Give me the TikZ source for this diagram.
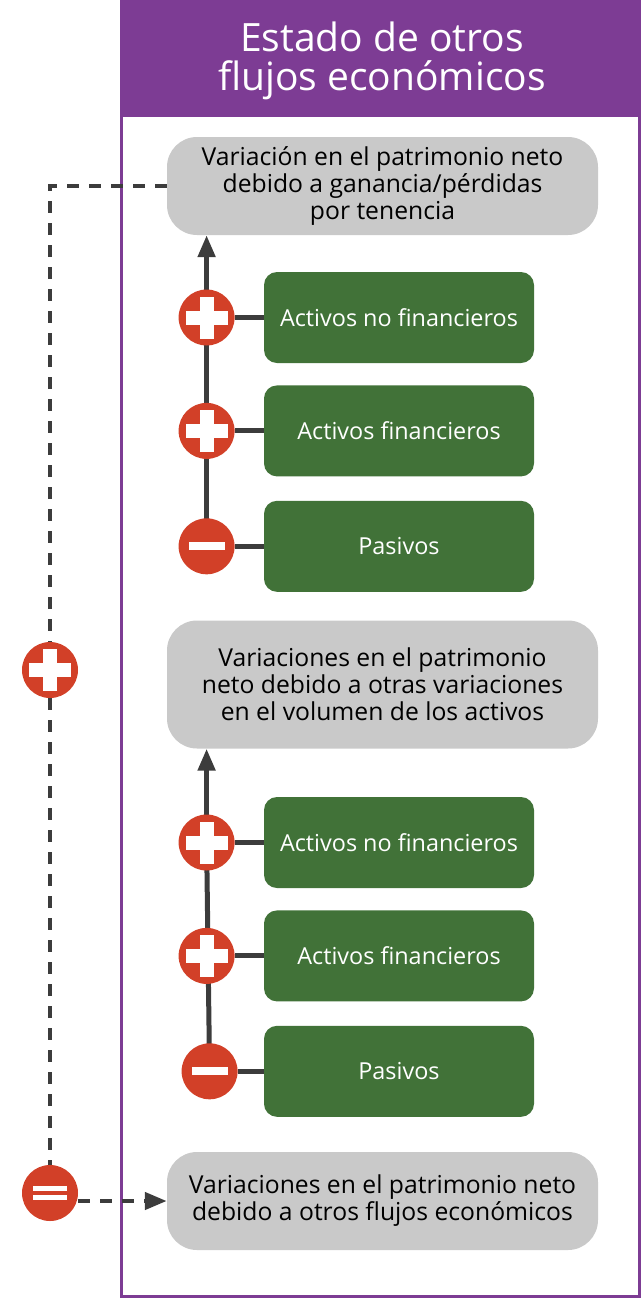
\documentclass[tikz,border=0pt]{standalone}
\usepackage{fontspec}
\setmainfont{Open Sans}
\usepackage{tikz}
\usetikzlibrary{arrows.meta,positioning,backgrounds}
\definecolor{headpurple}{RGB}{125,60,148}
\definecolor{signred}{RGB}{210,64,40}
\definecolor{assetgreen}{RGB}{65,114,56}
\definecolor{flowgray}{RGB}{201,201,201}
\definecolor{linedark}{RGB}{60,60,60}
\tikzset{
  flowbox/.style={rectangle, rounded corners=30pt, fill=flowgray, align=center,
                  minimum width=431pt, inner sep=0pt, font=\fontsize{24.7}{27}\selectfont},
  assetbox/.style={rectangle, rounded corners=13pt, fill=assetgreen, text=white, align=center,
                   minimum width=270pt, minimum height=91pt, font=\fontsize{23.4}{25}\selectfont},
  sgn/.style={circle, fill=signred, minimum size=56pt, inner sep=0pt},
  plussgn/.style={sgn, path picture={
      \fill[white] ([xshift=-21pt,yshift=-7pt]path picture bounding box.center)
        rectangle ([xshift=21pt,yshift=7pt]path picture bounding box.center);
      \fill[white] ([xshift=-7pt,yshift=-21pt]path picture bounding box.center)
        rectangle ([xshift=7pt,yshift=21pt]path picture bounding box.center);}},
  minussgn/.style={sgn, path picture={
      \fill[white] ([xshift=-18pt,yshift=-4pt]path picture bounding box.center)
        rectangle ([xshift=18pt,yshift=4pt]path picture bounding box.center);}},
  eqsgn/.style={sgn, path picture={
      \fill[white] ([xshift=-17pt,yshift=2pt]path picture bounding box.center)
        rectangle ([xshift=17pt,yshift=7pt]path picture bounding box.center);
      \fill[white] ([xshift=-17pt,yshift=-7pt]path picture bounding box.center)
        rectangle ([xshift=17pt,yshift=-2pt]path picture bounding box.center);}},
  solidln/.style={draw=linedark, line width=5pt},
  upar/.style={solidln, -{Triangle[length=22pt,width=17pt]}},
  dashln/.style={draw=linedark, line width=4.5pt, dash pattern=on 12pt off 10pt},
  dashar/.style={dashln, -{Triangle[length=22pt,width=17pt]}}
}
\begin{document}
\begin{tikzpicture}[x=1pt,y=-1pt]
\useasboundingbox (0,0) rectangle (642,1299);
% ---- header and frame ----
\fill[headpurple] (120,0) rectangle (641,117);
\node[text=white, align=center, inner sep=0pt, font=\fontsize{39}{39}\selectfont] (title) at (382,61)
      {Estado de otros\\flujos económicos};
\draw[headpurple, line width=3pt] (121.5,0) rectangle (639.5,1296.5);
% ---- holding gains ----
\node[flowbox, minimum height=98pt] (g1) at (382.5,186) {Variación en el patrimonio neto\\debido a ganancia/pérdidas\\por tenencia};
\node[assetbox] (a1) at (399,317.5) {Activos no financieros};
\node[assetbox, below=22pt of a1] (a2) {Activos financieros};
\node[assetbox, below=24pt of a2] (a3) {Pasivos};
\node[plussgn, left=29pt of a1] (p1) {};
\node[plussgn, left=29pt of a2] (p2) {};
\node[minussgn, left=29pt of a3] (m1) {};
% ---- volume changes ----
\node[flowbox, minimum height=128pt] (g2) at (382.5,684.5) {Variaciones en el patrimonio\\neto debido a otras variaciones\\en el volumen de los activos};
\node[assetbox] (b1) at (399,842.5) {Activos no financieros};
\node[assetbox, below=22pt of b1] (b2) {Activos financieros};
\node[assetbox, below=24pt of b2] (b3) {Pasivos};
\node[plussgn, left=29pt of b1] (p3) {};
\node[plussgn, left=29pt of b2] (p4) {};
\node[minussgn, left=26pt of b3] (m2) {};
% ---- total ----
\node[flowbox, minimum height=98pt] (g3) at (382.5,1201) {Variaciones en el patrimonio neto\\debido a otros flujos económicos};
\node[plussgn] (p5) at (50,670) {};
\node[eqsgn] (eq) at (50,1193) {};
% ---- connectors ----
\begin{scope}[on background layer]
\draw[upar] (m1.center) -- (p1 |- g1.south);
\draw[solidln] (p1) -- (a1) (p2) -- (a2) (m1) -- (a3);
\draw[solidln] (m2.center) -- (p3.center);
\draw[upar] (p3.center) -- (p3 |- g2.south);
\draw[solidln] (p3) -- (b1) (p4) -- (b2) (m2) -- (b3);
\end{scope}
\draw[dashln] (g1.west) -| (p5.north);
\draw[dashln] (p5.south) -- (eq.north);
\draw[dashar] (eq.east |- g3.west) -- (g3.west);
\end{tikzpicture}
\end{document}
